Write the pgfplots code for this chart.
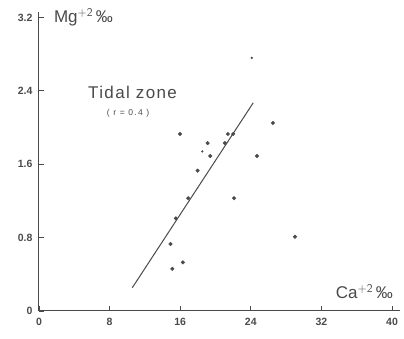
\documentclass[border=0pt]{standalone}
\usepackage{fontspec}
\setmainfont{Liberation Sans}
\usepackage{pgfplots}
\pgfplotsset{compat=1.18}
\definecolor{ink}{HTML}{4A4A4A}
\begin{document}
\begin{tikzpicture}
\useasboundingbox (0,0) rectangle (404pt,339pt);
\begin{axis}[
  at={(39pt,28pt)}, anchor=south west,
  scale only axis, width=361pt, height=299pt,
  xmin=0, xmax=40.9, ymin=0, ymax=3.26,
  axis lines=left, axis line style={ink, line width=1pt, -},
  xtick={0,8,16,24,32,40}, ytick={0,0.8,1.6,2.4,3.2},
  xticklabels={0,8,16,24,32,40},
  yticklabels={0,0.8,1.6,2.4,3.2},
  tick align=inside, major tick length=5pt,
  tick style={ink, line width=0.8pt},
  ticklabel style={font=\fontsize{10.5}{12}\selectfont\bfseries, text=ink},
  yticklabel style={xshift=-3pt},
  xticklabel style={yshift=-4pt},
  /pgf/number format/assume math mode=true,
  clip=false,
]
\addplot[ink, line width=1pt] coordinates {(10.57,0.254) (24.27,2.27)};
\addplot[only marks, mark=*, mark size=1.8pt, ink] coordinates {
(15.97,1.93) (19.1,1.83) (19.4,1.69) (17.97,1.53) (16.9,1.23)
(21.06,1.83) (21.4,1.93) (22.0,1.93) (26.5,2.05) (24.7,1.69)
(22.1,1.23) (15.5,1.01) (14.9,0.73) (16.3,0.53) (15.1,0.46) (29.0,0.81)
};
\addplot[only marks, mark=*, mark size=0.9pt, ink] coordinates {(24.1,2.76) (18.5,1.74)};
\node[anchor=west, text=ink, font=\fontsize{17}{18}\selectfont] at (axis cs:1.3,3.2) {Mg$^{\mathsf{+2}}$\,‰};
\node[anchor=east, text=ink, font=\fontsize{17}{18}\selectfont] at (axis cs:40.5,0.21) {Ca$^{\mathsf{+2}}$\,‰};
\node[text=ink, font=\fontsize{17}{18}\selectfont\addfontfeature{LetterSpace=8}] at (axis cs:10.6,2.38) {Tidal zone};
\node[text=ink, font=\fontsize{8.5}{9}\selectfont\addfontfeature{LetterSpace=15}] at (axis cs:10.1,2.16) {( r = 0.4 )};
\end{axis}
\end{tikzpicture}
\end{document}
